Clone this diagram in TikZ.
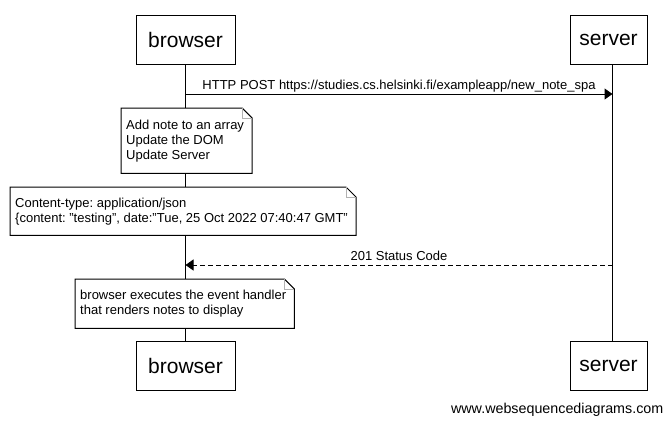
\documentclass[tikz,border=0pt]{standalone}
\usepackage{fontspec}
\setmainfont{Liberation Sans}
\usetikzlibrary{arrows.meta}
\frenchspacing

\tikzset{
    actor/.style={draw, line width=1pt, fill=white, minimum height=49pt, inner sep=0pt, font=\fontsize{21}{24}\selectfont},
    note/.style={fill=white, anchor=north west, align=left, inner xsep=5pt, inner ysep=0pt, font=\fontsize{13}{15}\selectfont},
    msg/.style={line width=1pt, -{Triangle[length=8pt,width=11pt]}},
    msglabel/.style={anchor=base, yshift=5pt, font=\fontsize{13}{15}\selectfont},
}
% note outline with folded corner
\newcommand{\notebox}[1]{%
    \fill[white] (#1.north east) rectangle ([xshift=3pt]#1.south east);
    \draw[line width=1pt] (#1.north west) -- ([xshift=-7pt]#1.north east) -- ([xshift=3pt,yshift=-10pt]#1.north east) -- ([xshift=3pt]#1.south east) -- (#1.south west) -- cycle;
    \draw[gray!60] ([xshift=-7pt]#1.north east) |- ([xshift=3pt,yshift=-10pt]#1.north east);
}

\begin{document}
\begin{tikzpicture}[x=1pt, y=-1pt]
\fill[white] (0,0) rectangle (671,424);
\useasboundingbox (0,0) rectangle (671,424);

\node[actor, minimum width=99pt] (brtop) at (185.5,39.5) {browser};
\node[actor, minimum width=77pt] (svtop) at (608.5,39.5) {server};
\node[actor, minimum width=99pt] (brbot) at (185.5,365.5) {browser};
\node[actor, minimum width=77pt] (svbot) at (608.5,365.5) {server};

% lifelines
\draw[line width=1pt] (brtop.south) -- (brbot.north);
\draw[line width=1pt] ([xshift=4pt]svtop.south) -- ([xshift=4pt]svbot.north);

\coordinate (b1) at (185.5,94);
\coordinate (s1) at (612.5,94);
\draw[msg] (b1) -- node[msglabel]{HTTP POST https://studies.cs.helsinki.fi/exampleapp/new\_note\_spa} (s1);

\node[note, minimum height=65pt] (n1) at (121,108) {Add note to an array\\Update the DOM\\Update Server};
\notebox{n1}

\node[note, minimum height=48pt] (n2) at (10,187) {Content-type: application/json\\\{content: "testing", date:"Tue, 25 Oct 2022 07:40:47 GMT"};
\notebox{n2}

\coordinate (s2) at (612.5,265);
\coordinate (b2) at (185.5,265);
\draw[msg, dash pattern=on 5pt off 3pt] (s2) -- node[msglabel]{201 Status Code} (b2);

\node[note, minimum height=49pt] (n3) at (75,279) {browser executes the event handler\\that renders notes to display};
\notebox{n3}

\node[anchor=base, font=\fontsize{14.3}{16}\selectfont] (wsd) at (557.2,413.5) {www.websequencediagrams.com};
\end{tikzpicture}
\end{document}
